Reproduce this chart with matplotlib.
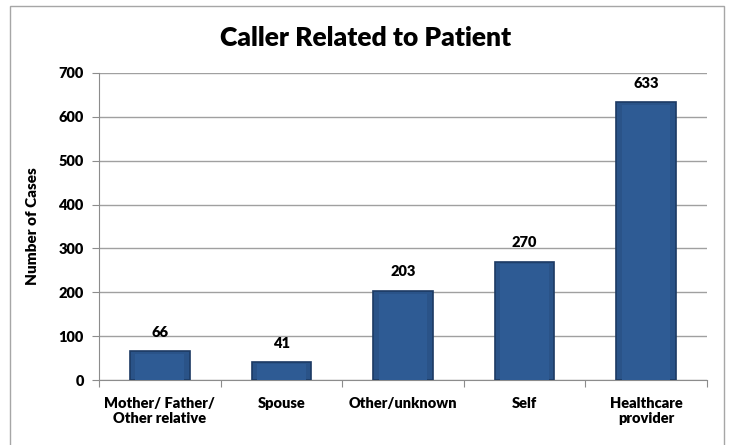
import matplotlib.pyplot as plt
import matplotlib.patches as patches
import numpy as np

categories = ["Mother/ Father/\nOther relative", "Spouse", "Other/unknown", "Self", "Healthcare\nprovider"]
cases = [66, 41, 203, 270, 633]
yticks = [0, 100, 200, 300, 400, 500, 600, 700]

plt.rcParams['font.family'] = ['Lato', 'DejaVu Sans']
W = 'heavy'

fig = plt.figure(figsize=(7.31, 4.45), dpi=100)
ax = fig.add_axes([0.1354, 0.146, 0.8316, 0.69])

# chart frame
fig.patches.append(patches.Rectangle((10 / 731, -0.01), 714 / 731, 1 - 6 / 445 + 0.01,
                                     transform=fig.transFigure, fill=False,
                                     edgecolor='#A6A6A6', linewidth=1.0))

x = np.arange(len(categories))
ax.bar(x, cases, width=0.49, color='#2A5388', edgecolor='#1C3A63', linewidth=1.2, zorder=3)
# subtle highlight to mimic bevel
ax.bar(x, np.array(cases) - np.minimum(6, np.array(cases) * 0.1), width=0.40,
       bottom=0, color='#2E5B94', linewidth=0, zorder=3)

for xi, v in zip(x, cases):
    ax.annotate(str(v), (xi, v), xytext=(0, 9), textcoords='offset points',
                ha='center', va='bottom', fontsize=10.5, fontweight=W)

ax.set_xlim(-0.5, len(categories) - 0.5)
ax.set_ylim(0, 700)
ax.set_yticks(yticks)
ax.set_yticklabels([str(t) for t in yticks], fontsize=10.5, fontweight=W)
ax.grid(axis='y', color='#A0A0A0', linewidth=1.0, zorder=0)

ax.set_xticks(np.arange(-0.5, len(categories), 1.0))
ax.set_xticklabels([])
ax.set_xticks(x, minor=True)
ax.set_xticklabels(categories, minor=True, fontsize=10.5, fontweight=W)
ax.tick_params(axis='x', which='major', length=5, color='#8C8C8C')
ax.tick_params(axis='x', which='minor', length=0, pad=12)
ax.tick_params(axis='y', length=5, color='#8C8C8C', pad=6)

for s in ['top', 'right']:
    ax.spines[s].set_visible(False)
for s in ['left', 'bottom']:
    ax.spines[s].set_color('#8C8C8C')

ax.set_ylabel('Number of Cases', fontsize=11, fontweight=W, labelpad=14)
fig.text(0.5, 1 - 38 / 445, 'Caller Related to Patient', ha='center', va='center',
         fontsize=19, fontweight=W)

fig.savefig('out.png', dpi=100)
